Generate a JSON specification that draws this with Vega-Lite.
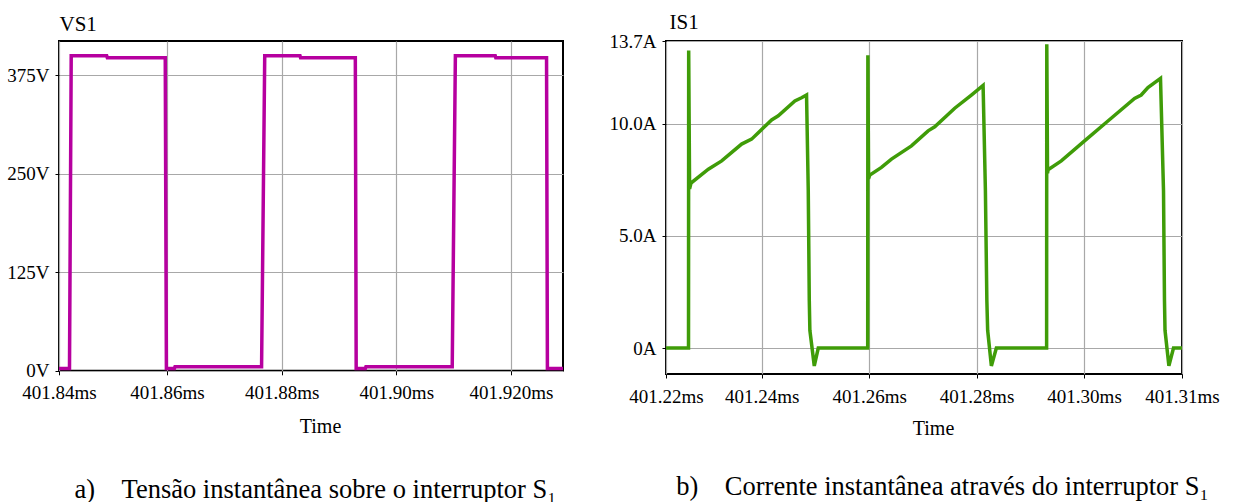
{
  "$schema": "https://vega.github.io/schema/vega-lite/v6.json",
  "padding": {"left": 5, "top": 10, "right": 5, "bottom": 5},
  "background": "white",
  "bounds": "flush",
  "spacing": 103,
  "config": {
    "font": "Liberation Serif, Times New Roman, serif",
    "view": {"stroke": "black", "strokeWidth": 2},
    "axis": {
      "labelFont": "Liberation Serif, Times New Roman, serif",
      "labelFontSize": 19,
      "labelColor": "black",
      "titleFont": "Liberation Serif, Times New Roman, serif",
      "titleFontSize": 20,
      "titleFontWeight": "normal",
      "titleColor": "black",
      "domain": false,
      "tickColor": "black",
      "tickSize": 4,
      "gridColor": "#a8a8a8",
      "gridWidth": 1.2,
      "gridOpacity": 1
    },
    "title": {"font": "Liberation Serif, Times New Roman, serif", "fontSize": 26.5, "fontWeight": "normal", "color": "black"}
  },
  "hconcat": [
    {
      "width": 504,
      "height": 329.8,
      "title": {"text": "a)\u00a0\u00a0\u00a0\u00a0Tensão instantânea sobre o interruptor S₁", "font": "Liberation Serif, Times New Roman, serif", "fontSize": 26.5, "orient": "bottom", "anchor": "middle", "offset": 40, "dx": 4.5},
      "data": {"values": [
        {"t": 401.84117, "v": 3},
        {"t": 401.84300, "v": 3},
        {"t": 401.84330, "v": 400},
        {"t": 401.84949, "v": 400},
        {"t": 401.84960, "v": 397.5},
        {"t": 401.85970, "v": 397.5},
        {"t": 401.85990, "v": 3},
        {"t": 401.86130, "v": 3},
        {"t": 401.86140, "v": 5},
        {"t": 401.87650, "v": 5},
        {"t": 401.87705, "v": 400},
        {"t": 401.88320, "v": 400},
        {"t": 401.88330, "v": 397.5},
        {"t": 401.89285, "v": 397.5},
        {"t": 401.89300, "v": 3},
        {"t": 401.89460, "v": 3},
        {"t": 401.89470, "v": 5},
        {"t": 401.90975, "v": 5},
        {"t": 401.91030, "v": 400},
        {"t": 401.91725, "v": 400},
        {"t": 401.91735, "v": 397.5},
        {"t": 401.92620, "v": 397.5},
        {"t": 401.92635, "v": 3},
        {"t": 401.92907, "v": 3}
      ]},
      "mark": {"type": "line", "color": "#b6009f", "strokeWidth": 3.5},
      "encoding": {
        "x": {
          "field": "t", "type": "quantitative",
          "scale": {"domain": [401.84117, 401.92907], "nice": false, "zero": false},
          "axis": {
            "values": [401.84117, 401.86, 401.88, 401.90, 401.92],
            "labelExpr": "datum.value < 401.85 ? '401.84ms' : (datum.value > 401.915 ? '401.920ms' : format(datum.value, '.2f') + 'ms')",
            "labelFont": "Liberation Serif, Times New Roman, serif",
            "labelFlush": false, "labelOverlap": false, "labelDx": 9, "labelPadding": 9,
            "title": "Time", "titleX": 261, "titleY": 62, "titleBaseline": "alphabetic"
          }
        },
        "y": {
          "field": "v", "type": "quantitative",
          "scale": {"domain": [0, 418.7], "nice": false},
          "axis": {
            "values": [0, 125, 250, 375],
            "labelExpr": "datum.value + 'V'",
            "labelFont": "Liberation Serif, Times New Roman, serif",
            "labelPadding": 6,
            "minExtent": 52, "maxExtent": 52,
            "title": "VS1", "titleFont": "Liberation Serif, Times New Roman, serif", "titleAngle": 0, "titleX": 0, "titleY": -11, "titleAlign": "left", "titleBaseline": "alphabetic", "titleFontSize": 21
          }
        }
      }
    },
    {
      "width": 516,
      "height": 333,
      "title": {"text": "b)\u00a0\u00a0\u00a0\u00a0Corrente instantânea através do interruptor S₁", "font": "Liberation Serif, Times New Roman, serif", "fontSize": 26.5, "orient": "bottom", "anchor": "middle", "offset": 36, "dx": 18.5},
      "data": {"values": [
        {"t": 401.22221, "i": 0},
        {"t": 401.22640, "i": 0},
        {"t": 401.22643, "i": 13.28},
        {"t": 401.22660, "i": 7.1},
        {"t": 401.22686, "i": 7.36},
        {"t": 401.23009, "i": 7.98},
        {"t": 401.23257, "i": 8.35},
        {"t": 401.23628, "i": 9.10},
        {"t": 401.23814, "i": 9.32},
        {"t": 401.24186, "i": 10.18},
        {"t": 401.24310, "i": 10.36},
        {"t": 401.24619, "i": 11.02},
        {"t": 401.24743, "i": 11.17},
        {"t": 401.24836, "i": 11.29},
        {"t": 401.24868, "i": 7.01},
        {"t": 401.24887, "i": 2.12},
        {"t": 401.24898, "i": 0.79},
        {"t": 401.24980, "i": -0.80},
        {"t": 401.25054, "i": 0},
        {"t": 401.25974, "i": 0},
        {"t": 401.25977, "i": 13.06},
        {"t": 401.25990, "i": 7.55},
        {"t": 401.26013, "i": 7.72},
        {"t": 401.26230, "i": 8.06},
        {"t": 401.26416, "i": 8.43},
        {"t": 401.26788, "i": 9.02},
        {"t": 401.27098, "i": 9.69},
        {"t": 401.27221, "i": 9.87},
        {"t": 401.27593, "i": 10.70},
        {"t": 401.27903, "i": 11.29},
        {"t": 401.28121, "i": 11.72},
        {"t": 401.28164, "i": 7.02},
        {"t": 401.28191, "i": 2.12},
        {"t": 401.28206, "i": 0.79},
        {"t": 401.28275, "i": -0.80},
        {"t": 401.28368, "i": 0},
        {"t": 401.29303, "i": 0},
        {"t": 401.29306, "i": 13.55},
        {"t": 401.29320, "i": 7.8},
        {"t": 401.29329, "i": 7.95},
        {"t": 401.29576, "i": 8.35},
        {"t": 401.30009, "i": 9.24},
        {"t": 401.30444, "i": 10.13},
        {"t": 401.30939, "i": 11.14},
        {"t": 401.31063, "i": 11.29},
        {"t": 401.31188, "i": 11.62},
        {"t": 401.31422, "i": 12.03},
        {"t": 401.31478, "i": 7.02},
        {"t": 401.31496, "i": 2.12},
        {"t": 401.31506, "i": 0.79},
        {"t": 401.31578, "i": -0.80},
        {"t": 401.31664, "i": 0},
        {"t": 401.31822, "i": 0}
      ]},
      "mark": {"type": "line", "color": "#3f9c08", "strokeWidth": 3.5},
      "encoding": {
        "x": {
          "field": "t", "type": "quantitative",
          "scale": {"domain": [401.22221, 401.31822], "nice": false, "zero": false},
          "axis": {
            "values": [401.22221, 401.24, 401.26, 401.28, 401.30, 401.31822],
            "labelExpr": "datum.value < 401.23 ? '401.22ms' : (datum.value > 401.31 ? '401.31ms' : format(datum.value, '.2f') + 'ms')",
            "labelFont": "Liberation Serif, Times New Roman, serif",
            "labelFlush": false, "labelOverlap": false, "labelDx": 9, "labelPadding": 9,
            "title": "Time", "titleX": 267, "titleY": 60, "titleBaseline": "alphabetic"
          }
        },
        "y": {
          "field": "i", "type": "quantitative",
          "scale": {"domain": [-1.16, 13.7], "nice": false, "zero": false},
          "axis": {
            "values": [0, 5, 10, 13.7],
            "labelExpr": "datum.value == 0 ? '0A' : format(datum.value, '.1f') + 'A'",
            "labelFont": "Liberation Serif, Times New Roman, serif",
            "labelPadding": 6,
            "title": "IS1", "titleFont": "Liberation Serif, Times New Roman, serif", "titleAngle": 0, "titleX": 3, "titleY": -13, "titleAlign": "left", "titleBaseline": "alphabetic", "titleFontSize": 21
          }
        }
      }
    }
  ]
}
